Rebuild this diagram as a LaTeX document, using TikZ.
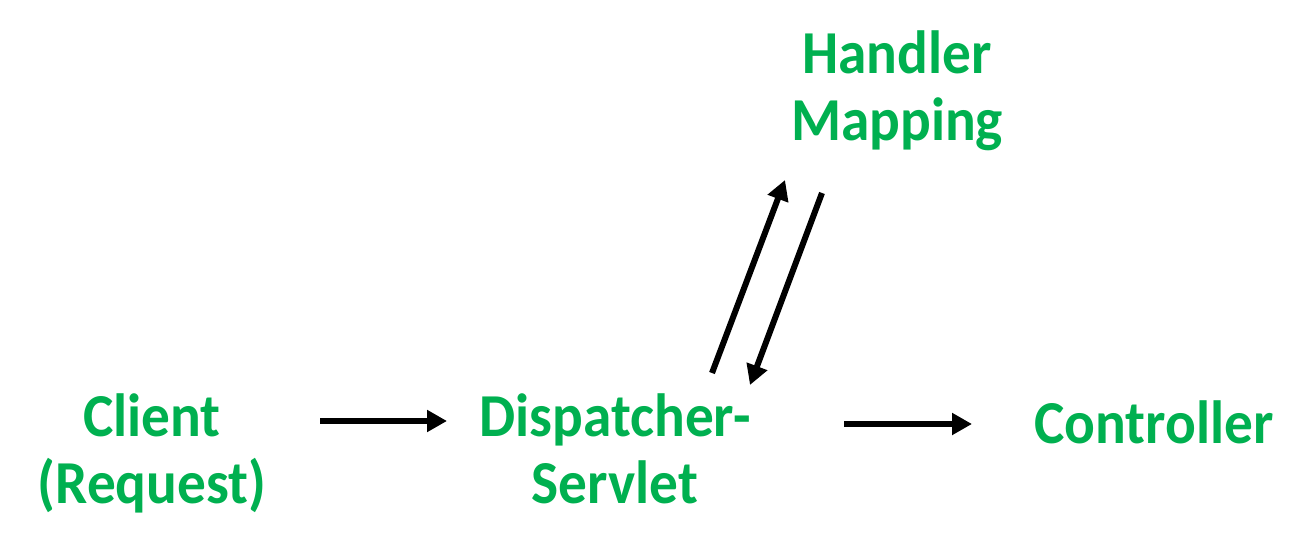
\documentclass[tikz,border=0pt]{standalone}
\usepackage{fontspec}
\setmainfont{Carlito}[FakeStretch=0.94]
\usetikzlibrary{arrows.meta}
\definecolor{lblgreen}{HTML}{00B050}
\begin{document}
\begin{tikzpicture}[x=1pt,y=-1pt,
  lbl/.style={text=lblgreen, font=\fontsize{61}{67}\selectfont\bfseries, align=center, inner sep=0pt, anchor=base},
  arr/.style={line width=6pt, -{Triangle[length=20pt,width=21pt]}}]
\useasboundingbox (0,0) rectangle (1314,556);
\node[lbl] (client) at (152,503) {Client\\(Request)};
\node[lbl] (disp) at (615,503) {Dispatcher-\\Servlet};
\node[lbl] (handler) at (897,141) {Handler\\Mapping};
\node[lbl] (ctrl) at (1154,443) {Controller};
\coordinate (a1s) at (320,421);
\coordinate (a1e) at (447,421);
\coordinate (a2s) at (844,424);
\coordinate (a2e) at (972,424);
\coordinate (a3s) at (712,373);
\coordinate (a3e) at (785,180);
\coordinate (a4s) at (822,193);
\coordinate (a4e) at (750,385);
\draw[arr] (a1s) -- (a1e);
\draw[arr] (a2s) -- (a2e);
\draw[arr] (a3s) -- (a3e);
\draw[arr] (a4s) -- (a4e);
\end{tikzpicture}
\end{document}
